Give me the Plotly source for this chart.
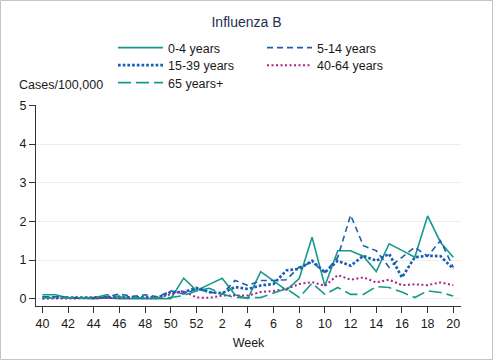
import plotly.graph_objects as go

# ---- data ----
week_labels = ["40", "41", "42", "43", "44", "45", "46", "47", "48", "49", "50", "51", "52",
               "1", "2", "3", "4", "5", "6", "7", "8", "9", "10", "11", "12", "13", "14",
               "15", "16", "17", "18", "19", "20"]

age_0_4 = [0.10, 0.10, 0.02, 0.01, 0.00, 0.02, 0.00, 0.00, 0.00, 0.00, 0.00, 0.53, 0.21,
           0.37, 0.53, 0.10, 0.00, 0.70, 0.45, 0.22, 0.52, 1.59, 0.33, 1.24, 1.24, 1.10, 0.70,
           1.42, 1.25, 1.07, 2.14, 1.46, 1.07]
age_5_14 = [0.05, 0.05, 0.03, 0.02, 0.03, 0.05, 0.12, 0.06, 0.10, 0.05, 0.20, 0.12, 0.25,
            0.17, 0.12, 0.47, 0.34, 0.47, 0.47, 0.49, 0.82, 0.94, 0.68, 1.07, 2.16, 1.37, 1.24,
            0.81, 1.07, 1.33, 1.10, 1.50, 0.81]
age_15_39 = [0.03, 0.03, 0.02, 0.02, 0.03, 0.04, 0.05, 0.03, 0.04, 0.03, 0.17, 0.17, 0.28,
             0.17, 0.14, 0.30, 0.25, 0.34, 0.38, 0.73, 0.77, 0.98, 0.68, 0.98, 0.85, 1.11, 0.98,
             1.16, 0.55, 1.07, 1.11, 1.10, 0.77]
age_40_64 = [0.00, 0.00, 0.01, 0.01, 0.01, 0.02, 0.02, 0.02, 0.02, 0.01, 0.12, 0.20, 0.03,
             0.02, 0.08, 0.08, 0.08, 0.17, 0.20, 0.25, 0.38, 0.43, 0.33, 0.61, 0.49, 0.55, 0.42,
             0.49, 0.35, 0.37, 0.35, 0.42, 0.35]
age_65_plus = [0.02, 0.02, 0.01, 0.01, 0.02, 0.10, 0.05, 0.02, 0.02, 0.02, 0.03, 0.08, 0.20,
               0.27, 0.12, 0.03, 0.02, 0.03, 0.15, 0.26, 0.03, 0.40, 0.11, 0.29, 0.11, 0.11, 0.31,
               0.29, 0.17, 0.03, 0.20, 0.16, 0.07]

series_names = ["0-4 years", "5-14 years", "15-39 years", "40-64 years", "65 years+"]
y_ticks = [0, 1, 2, 3, 4, 5]

# ---- styling ----
TEAL = "#16998a"
BLUE = "#1a5fb4"
MAGENTA = "#a4228f"
FONT = "Liberation Sans, Arial, sans-serif"

W, H = 493, 360
ML, MR, MT, MB = 36, 32, 105, 54
PW = W - ML - MR
PH = H - MT - MB

x_idx = list(range(len(week_labels)))

styles = [
    dict(color=TEAL, width=1.6, dash="solid", legend="legend"),
    dict(color=BLUE, width=1.6, dash="6px,4px", legend="legend"),
    dict(color=BLUE, width=2.7, dash="2.7px,2px", legend="legend2"),
    dict(color=MAGENTA, width=2.0, dash="2px,2.5px", legend="legend2"),
    dict(color=TEAL, width=1.6, dash="13px,5px", legend="legend3"),
]
values = [age_0_4, age_5_14, age_15_39, age_40_64, age_65_plus]

fig = go.Figure()
for name, vals, st in zip(series_names, values, styles):
    fig.add_trace(go.Scatter(
        x=x_idx, y=vals, mode="lines", name=name,
        line=dict(color=st["color"], width=st["width"], dash=st["dash"]),
        legend=st["legend"],
    ))

def px_to_paper_x(px):
    return (px - ML) / PW

def px_to_paper_y(py):
    return (H - MB - py) / PH

legend_common = dict(
    orientation="h", xanchor="left", yanchor="middle",
    bgcolor="rgba(0,0,0,0)", borderwidth=0,
    font=dict(family=FONT, size=12.5, color="#1a1a1a"),
    entrywidth=89, entrywidthmode="pixels", itemwidth=45,
    traceorder="normal",
)

LEG_X = 113

fig.update_layout(
    width=W, height=H,
    margin=dict(l=ML, r=MR, t=MT, b=MB, autoexpand=False),
    paper_bgcolor="white", plot_bgcolor="white",
    font=dict(family=FONT, size=12, color="#1a1a1a"),
    title=dict(text="Influenza B", x=0.5, xanchor="center", y=1 - 22 / H, yanchor="middle",
               font=dict(family=FONT, size=14, color="#1f2f4f")),
    legend=dict(legend_common, x=px_to_paper_x(LEG_X), y=px_to_paper_y(48)),
    legend2=dict(legend_common, x=px_to_paper_x(LEG_X), y=px_to_paper_y(65.5)),
    legend3=dict(legend_common, x=px_to_paper_x(LEG_X), y=px_to_paper_y(83)),
    showlegend=True,
    xaxis=dict(
        range=[-0.5, 32.6],
        tickmode="array", tickvals=x_idx[::2], ticktext=week_labels[::2],
        showgrid=False, zeroline=False,
        showline=True, linecolor="#333333", linewidth=1,
        ticks="outside", ticklen=6, tickcolor="#333333", tickwidth=1,
        tickfont=dict(family=FONT, size=12.5, color="#1a1a1a"),
        title=dict(text="Week", font=dict(family=FONT, size=12.5, color="#1a1a1a"), standoff=8),
        fixedrange=True,
    ),
    yaxis=dict(
        range=[-0.19, 5.01],
        tickmode="array", tickvals=y_ticks, ticktext=[str(t) for t in y_ticks],
        showgrid=True, gridcolor="#e6eff1", gridwidth=1,
        zeroline=False,
        showline=True, linecolor="#333333", linewidth=1,
        ticks="outside", ticklen=6, tickcolor="#333333", tickwidth=1,
        tickfont=dict(family=FONT, size=12.5, color="#1a1a1a"),
        fixedrange=True,
    ),
    annotations=[
        dict(text="Cases/100,000", xref="paper", yref="paper",
             x=px_to_paper_x(17), y=px_to_paper_y(85), xanchor="left", yanchor="middle",
             showarrow=False, font=dict(family=FONT, size=12.5, color="#1a1a1a")),
    ],
    shapes=[
        dict(type="rect", xref="paper", yref="paper",
             x0=(0.5 - ML) / PW, x1=(W - 0.5 - ML) / PW,
             y0=-(MB - 0.5) / PH,
             y1=(PH + MT - 0.5) / PH,
             line=dict(color="#c4c4c4", width=1), fillcolor="rgba(0,0,0,0)", layer="below"),
    ],
)

fig.write_html("out.html", config={"displayModeBar": False},
               post_script="document.body.style.margin='0px';")
